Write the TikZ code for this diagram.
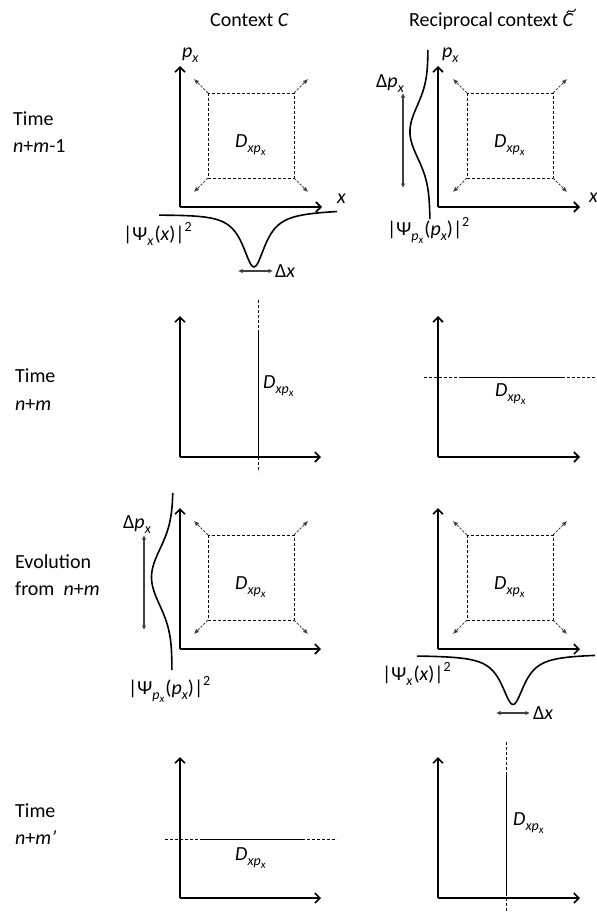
\documentclass[tikz,border=0pt]{standalone}
\usepackage{fontspec}
\setmainfont{Carlito}
\usetikzlibrary{arrows.meta}
\newcommand\lo[1]{\raisebox{-0.28em}{\fontsize{14}{14}\selectfont #1}}
\newcommand\llo[1]{\raisebox{-0.22em}{\fontsize{11}{11}\selectfont #1}}
\newcommand\hi[1]{\raisebox{0.42em}{\fontsize{14}{14}\selectfont #1}}
\newcommand\Dlab{\textit{D}\lo{\textit{xp}\llo{\textit{x}}}}
\newcommand\psix{|Ψ\lo{\textit{x}}\kern1pt(\textit{x})|\hi{2}}
\newcommand\psip{|Ψ\lo{\textit{p}\llo{\textit{x}}}\kern1pt(\textit{p}\lo{\textit{x}})|\hi{2}}
\begin{document}
\begin{tikzpicture}[x=1pt,y=-1pt,
  lab/.style={font=\fontsize{20}{24}\selectfont, inner sep=0pt, anchor=base west},
  axis/.style={line width=1.6pt, -{Straight Barb[length=5pt,width=10pt]}},
  boxline/.style={line width=0.7pt, dash pattern=on 3pt off 2pt},
  spread/.style={black!75, line width=0.8pt, dash pattern=on 2.5pt off 1.5pt, -{Latex[length=5pt,width=4.5pt]}},
  wave/.style={line width=1.6pt},
  delta/.style={black!75, line width=1.2pt, {Latex[length=4.5pt,width=4.5pt]}-{Latex[length=4.5pt,width=4.5pt]}},
  dline/.style={line width=0.8pt},
  dext/.style={line width=0.7pt, dash pattern=on 3pt off 2pt}]
\useasboundingbox (0,0) rectangle (597,913);

% titles
\node[lab] (titleC) at (210,26) {Context \textit{C}};
\node[lab] (titleR) at (409,26) {Reciprocal context \textit{C}};
\coordinate (tq) at (titleR.north east);
\draw[line width=1pt] ([shift={(-7,1)}]tq) .. controls ([shift={(-4.5,-4.5)}]tq) and ([shift={(-1.5,3.5)}]tq) .. ([shift={(2,-3)}]tq);

% row labels
\node[lab] (t1a) at (13,125) {Time};
\node[lab] (t1b) at (13,152) {\textit{n}+\textit{m}-1};
\node[lab] (t2a) at (15,382) {Time};
\node[lab] (t2b) at (15,410) {\textit{n}+\textit{m}};
\node[lab] (t3a) at (15,568) {Evolution};
\node[lab] (t3b) at (15,595) {from\ \ \textit{n}+\textit{m}};
\node[lab] (t4a) at (15,817) {Time};
\node[lab] (t4b) at (15,844) {\textit{n}+\textit{m’}};

% axes
\foreach \ox/\oy/\tx [count=\i] in {180/207/322, 438/207/580, 180/457/321, 438/457/580,
                                     180/649/321, 438/649/580, 180/898/321, 438/898/580}{
  \coordinate (o\i) at (\ox,\oy);
  \coordinate (ty\i) at (\ox,\oy-141);
  \coordinate (tx\i) at (\tx,\oy);
  \draw[axis] (o\i) -- (ty\i);
  \draw[axis] (o\i) -- (tx\i);
}
\node[lab] (px1) at (182,57) {\textit{p}\lo{\textit{x}}};
\node[lab] (px2) at (442,57) {\textit{p}\lo{\textit{x}}};
\node[lab] (x1) at (337,203) {\textit{x}};
\node[lab] (x2) at (589,202) {\textit{x}};

% spreading squares
\foreach \sx/\sy [count=\i] in {208/93, 467/93, 208/535, 467/535}{
  \draw[boxline] (\sx,\sy) rectangle ++(86,85);
  \draw[spread] (\sx,\sy) -- ++(-14,-14);
  \draw[spread] (\sx+86,\sy) -- ++(14,-14);
  \draw[spread] (\sx,\sy+85) -- ++(-14,14);
  \draw[spread] (\sx+86,\sy+85) -- ++(14,14);
  \node[lab] (d\i) at (\sx+27,\sy+54) {\Dlab};
}

% row 1 left: position wavefunction
\draw[wave] plot[domain=159:337, samples=200, smooth]
  (\x, {214-4*(\x-159)/178 + 55/(1+((\x-254)/14)^2)});
\node[lab] (psi1) at (123,240) {\psix};
\coordinate (dxa) at (238,271); \coordinate (dxb) at (273,271);
\draw[delta] (dxa) -- (dxb);
\node[lab] (dx1) at (275,277) {Δ\textit{x}};

% row 1 right: momentum wavefunction
\draw[wave] plot[domain=50:219, samples=150, smooth]
  ({428+2*(\x-50)/173 - 19*exp(-((\x-132)^2)/(2*26^2))}, \x);
\node[lab] (psi2) at (387,235) {\psip};
\coordinate (dpa) at (403,93); \coordinate (dpb) at (403,188);
\draw[delta] (dpa) -- (dpb);
\node[lab] (dp1) at (376,87) {Δ\textit{p}\lo{\textit{x}}};

% row 2 left: vertical line
\coordinate (v1a) at (258,300); \coordinate (v1b) at (258,333);
\coordinate (v1c) at (258,457); \coordinate (v1d) at (258,472);
\draw[dext] (v1a) -- (v1b);
\draw[dline] (v1b) -- (v1c);
\draw[dext] (v1c) -- (v1d);
\node[lab] (d5) at (263,388) {\Dlab};

% row 2 right: horizontal line
\coordinate (h1a) at (424,377); \coordinate (h1b) at (460,377);
\coordinate (h1c) at (562,377); \coordinate (h1d) at (597,377);
\draw[dext] (h1a) -- (h1b);
\draw[dline] (h1b) -- (h1c);
\draw[dext] (h1c) -- (h1d);
\node[lab] (d6) at (495,396) {\Dlab};

% row 3 left: momentum wavefunction
\draw[wave] plot[domain=493:670, samples=150, smooth]
  ({173-1*(\x-493)/177 - 21*exp(-((\x-577)^2)/(2*28^2))}, \x);
\node[lab] (psi3) at (128,694) {\psip};
\coordinate (dpc) at (144,535); \coordinate (dpd) at (144,630);
\draw[delta] (dpc) -- (dpd);
\node[lab] (dp3) at (123,528) {Δ\textit{p}\lo{\textit{x}}};

% row 3 right: position wavefunction
\draw[wave] plot[domain=417:595, samples=200, smooth]
  (\x, {655-1*(\x-417)/178 + 50/(1+((\x-513)/14)^2)});
\node[lab] (psi4) at (382,680) {\psix};
\coordinate (dxc) at (496,713); \coordinate (dxd) at (530,713);
\draw[delta] (dxc) -- (dxd);
\node[lab] (dx4) at (533,719) {Δ\textit{x}};

% row 4 left: horizontal line
\coordinate (h2a) at (165,839); \coordinate (h2b) at (200,839);
\coordinate (h2c) at (302,839); \coordinate (h2d) at (337,839);
\draw[dext] (h2a) -- (h2b);
\draw[dline] (h2b) -- (h2c);
\draw[dext] (h2c) -- (h2d);
\node[lab] (d7) at (235,860) {\Dlab};

% row 4 right: vertical line
\coordinate (v2a) at (506,742); \coordinate (v2b) at (506,775);
\coordinate (v2c) at (506,893); \coordinate (v2d) at (506,913);
\draw[dext] (v2a) -- (v2b);
\draw[dline] (v2b) -- (v2c);
\draw[dext] (v2c) -- (v2d);
\node[lab] (d8) at (513,825) {\Dlab};
\end{tikzpicture}
\end{document}
